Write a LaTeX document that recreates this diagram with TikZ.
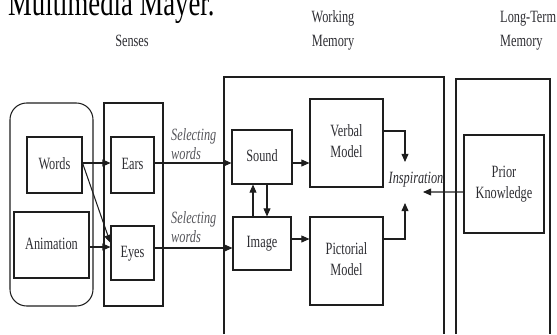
\documentclass[tikz,border=0pt]{standalone}
\usepackage{fontspec}
\setmainfont{Liberation Serif}
\usepackage{tikz}
\usepackage{xcolor}
\usetikzlibrary{arrows.meta}
\newcommand{\tallText}[2][c]{\scalebox{1}[1.4]{\begin{tabular}{@{}#1@{}}#2\end{tabular}}}

\begin{document}
\begin{tikzpicture}[x=0.03cm,y=-0.03cm,
  box/.style={draw=lineCol,line width=0.9pt,inner sep=1pt,text=textCol,font=\fontsize{10.5}{13}\selectfont},
  head/.style={text=textCol,inner sep=0pt,font=\fontsize{10.5}{14.5}\selectfont},
  link/.style={draw=lineCol,line width=0.9pt,-{Triangle[length=7pt,width=6pt]}},
  select/.style={text=selCol,inner sep=0pt,font=\fontsize{10.5}{11.5}\selectfont\itshape}]
\definecolor{lineCol}{RGB}{30,30,30}
\definecolor{textCol}{RGB}{45,45,50}
\definecolor{selCol}{RGB}{85,85,90}
\useasboundingbox (0,0) rectangle (557,334);
\node[anchor=base west,inner sep=0pt,font=\fontsize{22.8}{24}\selectfont,text=black] (title) at (8,15) {\scalebox{1}[1.4]{Multimedia Mayer.}};
\node[head] (senses) at (132,42) {\tallText{Senses}};
\node[head] (wmlabel) at (333,30) {\tallText{Working\\Memory}};
\node[head,anchor=west] (ltlabel) at (500,30) {\tallText[l]{Long-Term\\Memory}};
\node[box,rounded corners=0.5cm,minimum width=2.49cm,minimum height=6.09cm] (media) at (51.5,204.5) {};
\node[box,minimum width=1.77cm,minimum height=6.09cm] (sensebox) at (133.5,204.5) {};
\draw[draw=lineCol,line width=0.9pt] (224,334) -- (224,77) -- (444,77) -- (444,334);
\draw[draw=lineCol,line width=0.9pt] (456,334) -- (456,79) -- (550,79) -- (550,334);
\node[box,minimum width=1.65cm,minimum height=1.68cm] (words) at (54.5,165) {\tallText{Words}};
\node[box,minimum width=2.25cm,minimum height=1.98cm] (animation) at (51.5,245) {\tallText{Animation}};
\node[box,minimum width=1.29cm,minimum height=1.68cm] (ears) at (132.5,165) {\tallText{Ears}};
\node[box,minimum width=1.29cm,minimum height=1.62cm] (eyes) at (132.5,253) {\tallText{Eyes}};
\node[box,minimum width=1.8cm,minimum height=1.62cm] (sound) at (262,157) {\tallText{Sound}};
\node[box,minimum width=1.74cm,minimum height=1.59cm] (image) at (262,243.5) {\tallText{Image}};
\node[box,minimum width=2.19cm,minimum height=2.64cm] (verbal) at (346.5,143) {\tallText{Verbal\\Model}};
\node[box,minimum width=2.19cm,minimum height=2.64cm] (pictorial) at (346.5,261) {\tallText{Pictorial\\Model}};
\node[box,minimum width=2.4cm,minimum height=2.94cm] (prior) at (504,184) {\tallText{Prior\\Knowledge}};
\node[select,anchor=west] (selone) at (171,146) {\tallText[l]{Selecting\\words}};
\node[select,anchor=west] (seltwo) at (171,229) {\tallText[l]{Selecting\\words}};
\node[select,text=textCol] (insp) at (416,180) {\tallText{Inspiration}};
\coordinate (insptop) at (405,162);
\coordinate (inspbot) at (405,203);
\coordinate (inspright) at (423,192);
% senses
\draw[link] ([yshift=0.06cm]words.east) -- ([yshift=0.06cm]ears.west);
\draw[link] ([yshift=0.06cm]words.east) -- ([yshift=0.3cm]eyes.west);
\draw[link] ([yshift=-0.06cm]animation.east) -- ([yshift=-0.06cm]animation.east -| eyes.west);
\draw[link] ([yshift=0.06cm]ears.east) -- ([yshift=0.06cm]ears.east -| sound.west);
\draw[link] ([yshift=0.15cm]eyes.east) -- ([yshift=0.15cm]eyes.east -| image.west);
% working memory
\draw[link] ([xshift=-0.27cm]image.north) -- ([xshift=-0.27cm]image.north |- sound.south);
\draw[link] ([xshift=0.15cm]sound.south) -- ([xshift=0.15cm]sound.south |- image.north);
\draw[link] ([yshift=-0.18cm]sound.east) -- ([yshift=-0.18cm]sound.east -| verbal.west);
\draw[link] ([yshift=0.135cm]image.east) -- ([yshift=0.135cm]image.east -| pictorial.west);
\draw[link] ([yshift=0.36cm]verbal.east) -| (insptop);
\draw[link] ([yshift=0.66cm]pictorial.east) -| (inspbot);
\draw[link] ([yshift=-0.24cm]prior.west) -- (inspright);
\end{tikzpicture}
\end{document}
